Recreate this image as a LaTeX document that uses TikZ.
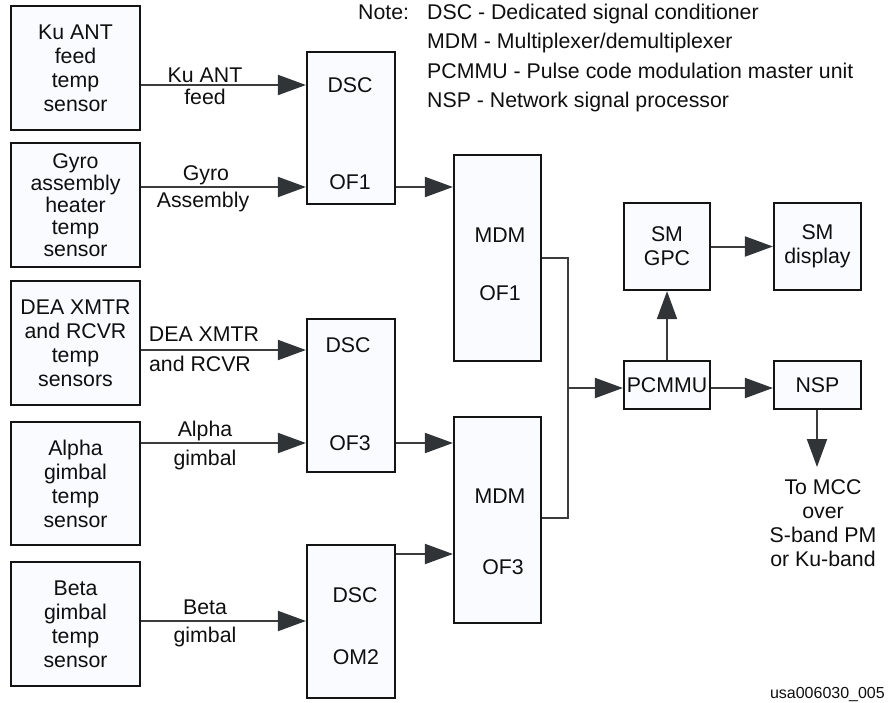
\documentclass[tikz,border=0pt]{standalone}
\usepackage{fontspec}
\setmainfont{Liberation Sans}
\usetikzlibrary{arrows.meta}
\definecolor{boxfill}{RGB}{250,251,254}
\definecolor{linec}{RGB}{60,60,60}
\definecolor{tipc}{RGB}{48,52,54}
\definecolor{edgec}{RGB}{20,20,20}
\definecolor{txtc}{RGB}{15,15,15}
\begin{document}
\begin{tikzpicture}[x=1pt,y=-1pt,
  box/.style={draw=edgec, line width=2.2pt, fill=boxfill, inner sep=0pt, align=center, text=txtc, font=\fontsize{21.3}{24}\selectfont},
  lbl/.style={inner sep=0pt, text=txtc, font=\fontsize{21.3}{24}\selectfont},
  conn/.style={draw=linec, line width=2pt},
  arr/.style={conn, -{Triangle[length=28pt,width=20pt,color=tipc]}},
  sensor/.style={box, minimum width=129pt, minimum height=124pt},
  dscbox/.style={box, minimum width=88pt, minimum height=153pt},
  mdmbox/.style={box, minimum width=87pt, minimum height=206pt},
  smallbox/.style={box, minimum width=86pt, minimum height=87pt},
  flatbox/.style={box, minimum width=86pt, minimum height=48pt},
]
\useasboundingbox (0,0) rectangle (888,702);

% sensor boxes
\node[sensor] (ku) at (75.5,68) {Ku ANT\\feed\\temp\\sensor};
\node[sensor, font=\fontsize{21.3}{22}\selectfont] (gyro) at (75.5,205) {Gyro\\assembly\\heater\\temp\\sensor};
\node[sensor] (dea) at (75.5,343) {DEA XMTR\\and RCVR\\temp\\sensors};
\node[sensor, minimum height=123pt] (alpha) at (75.5,483.5) {Alpha\\gimbal\\temp\\sensor};
\node[sensor] (beta) at (75.5,624) {Beta\\gimbal\\temp\\sensor};

% DSC boxes
\node[dscbox, minimum height=152pt] (dsc1) at (351,128) {};
\node[lbl] (dsc1a) at (350,85) {DSC};
\node[lbl] (dsc1b) at (350,182) {OF1};
\node[dscbox] (dsc3) at (351,395.5) {};
\node[lbl] (dsc3a) at (348,345) {DSC};
\node[lbl] (dsc3b) at (350,443) {OF3};
\node[dscbox] (dsc2) at (351,621.5) {};
\node[lbl] (dsc2a) at (355,595) {DSC};
\node[lbl] (dsc2b) at (356,657) {OM2};

% MDM boxes
\node[mdmbox] (mdm1) at (497.5,258) {};
\node[lbl] (mdm1a) at (500,235) {MDM};
\node[lbl] (mdm1b) at (500,293) {OF1};
\node[mdmbox] (mdm3) at (497.5,520) {};
\node[lbl] (mdm3a) at (500,496) {MDM};
\node[lbl] (mdm3b) at (503,567) {OF3};

% right side
\node[smallbox] (smgpc) at (667,246.5) {SM\\GPC};
\node[smallbox, minimum width=87pt] (smdisp) at (817.5,246.5) {SM\\display};
\node[flatbox] (pcmmu) at (667,385) {PCMMU};
\node[flatbox, minimum width=87pt] (nsp) at (817.5,385) {NSP};
\node[lbl, align=center] (tomcc) at (823,523.5) {To MCC\\over\\S-band PM\\or Ku-band};

% arrow labels
\node[lbl, anchor=base] (l1a) at (205,82) {Ku ANT};
\node[lbl, anchor=base] (l1b) at (205,104) {feed};
\node[lbl, anchor=base] (l2a) at (206,180) {Gyro};
\node[lbl, anchor=base] (l2b) at (203,207) {Assembly};
\node[lbl, anchor=base] (l3a) at (204,341.5) {DEA XMTR};
\node[lbl, anchor=base] (l3b) at (200,371.5) {and RCVR};
\node[lbl, anchor=base] (l4a) at (205,436.5) {Alpha};
\node[lbl, anchor=base] (l4b) at (205,465) {gimbal};
\node[lbl, anchor=base] (l5a) at (205,614) {Beta};
\node[lbl, anchor=base] (l5b) at (205,642.5) {gimbal};

% note
\node[lbl, anchor=base west] (nh) at (358,19) {Note:};
\node[lbl, anchor=base west] (n1) at (427,19) {DSC - Dedicated signal conditioner};
\node[lbl, anchor=base west] (n2) at (427,48.5) {MDM - Multiplexer/demultiplexer};
\node[lbl, anchor=base west] (n3) at (427,78) {PCMMU - Pulse code modulation master unit};
\node[lbl, anchor=base west] (n4) at (427,107) {NSP - Network signal processor};

\node[inner sep=0pt, text=txtc, font=\fontsize{16}{18}\selectfont, anchor=base east] (fig) at (885,698) {usa006030\_005};

% level coordinates
\coordinate (y1) at (0,85);
\coordinate (y2) at (0,187);
\coordinate (y3) at (0,350);
\coordinate (y4) at (0,443);
\coordinate (y5) at (0,554);
\coordinate (y6) at (0,621);
\coordinate (bus1) at (568,258);
\coordinate (bus2) at (568,518);
\coordinate (busmid) at (568,388);
\coordinate (mccin) at (817,467);

% connectors
\draw[arr] (ku.east |- y1) -- (dsc1.west |- y1);
\draw[arr] (gyro.east |- y2) -- (dsc1.west |- y2);
\draw[arr] (dsc1.east |- y2) -- (mdm1.west |- y2);
\draw[arr] (dea.east |- y3) -- (dsc3.west |- y3);
\draw[arr] (alpha.east |- y4) -- (dsc3.west |- y4);
\draw[arr] (dsc3.east |- y4) -- (mdm3.west |- y4);
\draw[arr] (dsc2.east |- y5) -- (mdm3.west |- y5);
\draw[arr] (beta.east |- y6) -- (dsc2.west |- y6);
\draw[conn] (mdm1.east |- bus1) -- (bus1) -- (bus2) -- (mdm3.east |- bus2);
\draw[arr] (busmid) -- (pcmmu.west |- busmid);
\draw[arr] (pcmmu.north) -- (smgpc.south);
\draw[arr] (smgpc.east) -- (smdisp.west);
\draw[arr] (pcmmu.east |- busmid) -- (nsp.west |- busmid);
\draw[arr] (nsp.south -| mccin) -- (mccin);
\end{tikzpicture}
\end{document}
